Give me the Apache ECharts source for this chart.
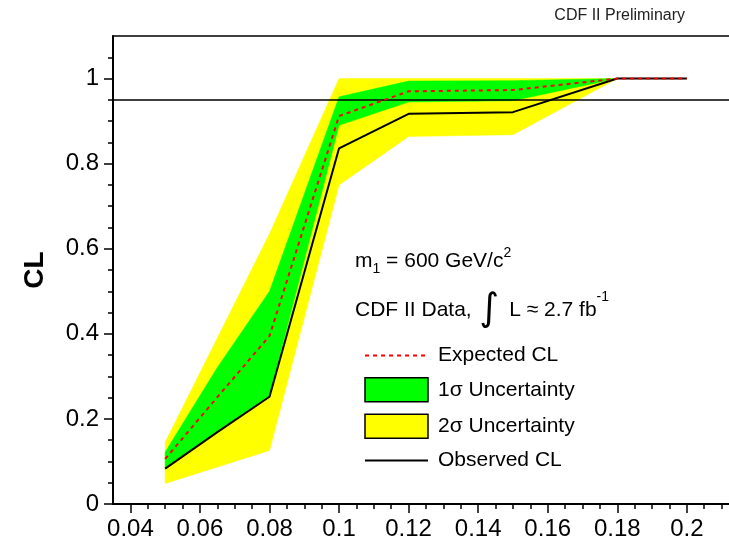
<!DOCTYPE html>
<html><head><meta charset="utf-8">
<script src="https://cdn.jsdelivr.net/npm/echarts@6/dist/echarts.min.js"></script>
<style>html,body{margin:0;padding:0;background:#fff}#c{width:729px;height:540px}</style>
</head><body><div id="c"></div>
<script>
// ---- data ----
const massX      = [0.05, 0.065, 0.08, 0.10, 0.12, 0.15, 0.18, 0.20];
const observedCL = [0.083, 0.169, 0.252, 0.836, 0.917, 0.921, 1.0, 1.0];
const expectedCL = [0.106, 0.251, 0.395, 0.912, 0.970, 0.973, 1.0, 1.0];
const sigma1Low  = [0.083, 0.169, 0.255, 0.890, 0.945, 0.948, 1.0, 1.0];
const sigma1High = [0.122, 0.321, 0.500, 0.957, 0.994, 0.995, 1.0, 1.0];
const sigma2Low  = [0.048, 0.087, 0.126, 0.750, 0.864, 0.868, 1.0, 1.0];
const sigma2High = [0.145, 0.390, 0.635, 1.0, 1.0, 1.0, 1.0, 1.0];
const referenceCL = 0.95;

const xMajorTicks = [0.04, 0.06, 0.08, 0.1, 0.12, 0.14, 0.16, 0.18, 0.2];
const xMinorTicks = [0.045, 0.05, 0.055, 0.065, 0.07, 0.075, 0.085, 0.09, 0.095,
  0.105, 0.11, 0.115, 0.125, 0.13, 0.135, 0.145, 0.15, 0.155, 0.165, 0.17, 0.175,
  0.185, 0.19, 0.195, 0.205, 0.21];
const yMajorTicks = [0, 0.2, 0.4, 0.6, 0.8, 1];
const yMinorTicks = [0.05, 0.1, 0.15, 0.25, 0.3, 0.35, 0.45, 0.5, 0.55, 0.65, 0.7, 0.75,
  0.85, 0.9, 0.95, 1.05];

const xMin = 0.035, xMax = 0.215, yMin = 0, yMax = 1.1;

const pairs = arr => massX.map((x, i) => [x, arr[i]]);

const FONT = 'Liberation Sans, Arial, sans-serif';
const chart = echarts.init(document.getElementById('c'), null, {renderer: 'canvas'});

function bandSeries(name, lo, hi, color, z) {
  return {
    name: name, type: 'custom', z: z,
    data: massX.map((x, i) => [x, lo[i], hi[i]]),
    encode: {x: 0, y: [1, 2]},
    itemStyle: {color: color},
    renderItem: function (params, api) {
      if (params.dataIndex !== 0) return null;
      const upper = [], lower = [];
      for (let i = 0; i < massX.length; i++) {
        upper.push(api.coord([massX[i], hi[i]]));
        lower.push(api.coord([massX[i], lo[i]]));
      }
      return {type: 'polygon', shape: {points: upper.concat(lower.reverse())},
              style: {fill: color, stroke: color, lineWidth: 0.5}};
    }
  };
}

chart.setOption({
  animation: false,
  backgroundColor: '#fff',
  grid: {left: 113, right: -10, top: 36, bottom: 36, show: true, borderColor: '#000',
         borderWidth: 1.5, containLabel: false, outerBoundsMode: 'none'},
  xAxis: [
    {type: 'value', min: xMin, max: xMax, position: 'bottom',
     axisLine: {onZero: false, lineStyle: {color: '#000', width: 2}},
     axisTick: {customValues: xMajorTicks, length: 9, lineStyle: {color: '#000', width: 1.5}},
     axisLabel: {customValues: xMajorTicks, margin: 13, fontSize: 24, fontFamily: FONT, color: '#000'},
     splitLine: {show: false}},
    {type: 'value', min: xMin, max: xMax, position: 'bottom',
     axisLine: {show: false, onZero: false},
     axisTick: {customValues: xMinorTicks, length: 5, lineStyle: {color: '#000', width: 1.5}},
     axisLabel: {show: false}, splitLine: {show: false}}
  ],
  yAxis: [
    {type: 'value', min: yMin, max: yMax, position: 'left',
     name: 'CL', nameLocation: 'middle', nameRotate: 90, nameGap: 64,
     nameTextStyle: {fontSize: 28, fontWeight: 'bold', fontFamily: FONT, color: '#000'},
     axisLine: {onZero: false, lineStyle: {color: '#000', width: 2}},
     axisTick: {customValues: yMajorTicks, length: 9, lineStyle: {color: '#000', width: 1.5}},
     axisLabel: {customValues: yMajorTicks, margin: 14, fontSize: 24, fontFamily: FONT, color: '#000'},
     splitLine: {show: false}},
    {type: 'value', min: yMin, max: yMax, position: 'left',
     axisLine: {show: false, onZero: false},
     axisTick: {customValues: yMinorTicks, length: 5, lineStyle: {color: '#000', width: 1.5}},
     axisLabel: {show: false}, splitLine: {show: false}}
  ],
  legend: {
    orient: 'vertical', left: 359, top: 340, itemWidth: 63, itemHeight: 24, itemGap: 11,
    selectedMode: false,
    textStyle: {fontSize: 21, fontFamily: FONT, color: '#000', padding: [0, 0, 0, 5]},
    data: [
      {name: 'Expected CL', itemStyle: {color: 'rgba(0,0,0,0)', borderWidth: 0}},
      {name: '1σ Uncertainty', icon: 'rect', itemStyle: {color: '#00ff00', borderColor: '#000', borderWidth: 1.5}},
      {name: '2σ Uncertainty', icon: 'rect', itemStyle: {color: '#ffff00', borderColor: '#000', borderWidth: 1.5}},
      {name: 'Observed CL', itemStyle: {color: 'rgba(0,0,0,0)', borderWidth: 0}}
    ]
  },
  graphic: [
    {type: 'text', right: 44, top: 8,
     style: {text: 'CDF II Preliminary', fontSize: 16, fontFamily: FONT, fill: '#222'}},
    {type: 'text', left: 355, top: 246,
     style: {text: 'm{sub|1} = 600 GeV/c{sup|2}', fontSize: 21, fontFamily: FONT, fill: '#000',
       lineHeight: 30,
       rich: {sub: {fontSize: 14, fontFamily: FONT, verticalAlign: 'bottom', lineHeight: 30},
              sup: {fontSize: 14, fontFamily: FONT, verticalAlign: 'top', lineHeight: 30}}}},
    {type: 'text', left: 355, top: 290,
     style: {text: 'CDF II Data, {int|∫} L ≈ 2.7 fb{sup|-1}', fontSize: 21, fontFamily: FONT, fill: '#000',
       lineHeight: 40,
       rich: {int: {fontSize: 38, fontFamily: 'DejaVu Sans', lineHeight: 40, padding: [0, 4, 0, 2]},
              sup: {fontSize: 14, fontFamily: FONT, verticalAlign: 'top', lineHeight: 32}}}}
  ],
  series: [
    bandSeries('2σ Uncertainty', sigma2Low, sigma2High, '#ffff00', 1),
    bandSeries('1σ Uncertainty', sigma1Low, sigma1High, '#00ff00', 2),
    {name: 'Observed CL', type: 'line', data: pairs(observedCL), symbol: 'none',
     itemStyle: {color: '#000'}, lineStyle: {color: '#000', width: 2}, z: 5},
    {name: 'Expected CL', type: 'line', data: pairs(expectedCL), symbol: 'none',
     itemStyle: {color: '#ff0000'}, lineStyle: {color: '#ff0000', width: 2, type: [4, 4]}, z: 6,
     markLine: {silent: true, symbol: 'none', label: {show: false},
       lineStyle: {color: '#000', width: 1.5, type: 'solid'},
       data: [{yAxis: referenceCL}]}}
  ]
});
</script></body></html>
